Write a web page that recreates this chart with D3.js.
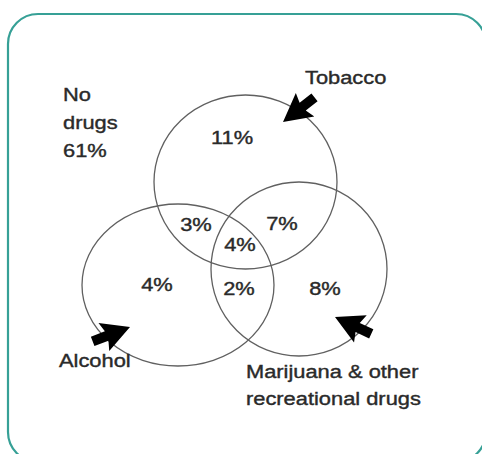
<!DOCTYPE html>
<html>
<head>
<meta charset="utf-8">
<script src="https://cdn.jsdelivr.net/npm/d3@7"></script>
<style>
	html, body { margin: 0; padding: 0; background: #fff; }
	svg { display: block; }
</style>
</head>
<body>
<svg id="chart" width="482" height="454"></svg>
<script>
// data
var setNames = ["Tobacco", "Alcohol", "Marijuana & other recreational drugs"];
var setLabelLines = [["Tobacco"], ["Alcohol"], ["Marijuana & other", "recreational drugs"]];
var regionKeys = ["T", "A", "M", "TA", "TM", "AM", "TAM"];
var regionValues = [11, 4, 8, 3, 7, 2, 4];
var noneLabel = ["No", "drugs"];
var noneValue = 61;

// layout (pixels)
var circleLayout = [
	{ cx: 245.5, cy: 182, rx: 91.5, ry: 87 },  // tobacco
	{ cx: 178, cy: 285, rx: 96, ry: 81 },      // alcohol
	{ cx: 299, cy: 269, rx: 88, ry: 87 }       // marijuana
];
var regionPos = {
	T: [232, 144], A: [157, 291], M: [325, 295],
	TA: [196, 231], TM: [282, 230], AM: [239, 295], TAM: [240, 251]
};
var setLabelPos = [[305, 84], [59, 367], [246, 378]];
var arrowLayout = [
	{ x: 283, y: 122, angle: -38 },
	{ x: 130, y: 327, angle: 159 },
	{ x: 335, y: 317, angle: 25 }
];
var textStyle = { size: 19, stretch: 1.15, fill: "#2a2a2a", lineGap: 27 };

var svg = d3.select("#chart");

// card border
svg.append("rect")
	.attr("x", 8).attr("y", 14)
	.attr("width", 478).attr("height", 448)
	.attr("rx", 30).attr("ry", 30)
	.style("fill", "#fff")
	.style("stroke", "#36a096").style("stroke-width", 2.2);

// circles
svg.selectAll("ellipse.set")
	.data(setNames)
	.enter().append("ellipse")
	.attr("class", "set")
	.attr("cx", function (d, i) { return circleLayout[i].cx; })
	.attr("cy", function (d, i) { return circleLayout[i].cy; })
	.attr("rx", function (d, i) { return circleLayout[i].rx; })
	.attr("ry", function (d, i) { return circleLayout[i].ry; })
	.style("fill", "none").style("stroke", "#606060").style("stroke-width", 1.3);

function addText(str, x, y, anchor) {
	return svg.append("text")
		.attr("transform", "translate(" + x + "," + y + ") scale(" + textStyle.stretch + ",1)")
		.attr("text-anchor", anchor || "start")
		.style("font-family", "'Liberation Sans', Arial, sans-serif")
		.style("font-size", textStyle.size + "px")
		.style("fill", textStyle.fill)
		.style("stroke", textStyle.fill).style("stroke-width", 0.4)
		.text(str);
}

// region percentages
regionKeys.forEach(function (k, i) {
	addText(regionValues[i] + "%", regionPos[k][0], regionPos[k][1], "middle");
});

// arrows (cursor-like, tip at origin, body along +x)
var arrowShape = [[0, 0], [28, -15], [25, -5], [40, -5], [40, 5], [25, 5], [28, 15]];
var line = d3.line();
svg.selectAll("path.arrow")
	.data(arrowLayout)
	.enter().append("path")
	.attr("class", "arrow")
	.attr("d", line(arrowShape) + "Z")
	.attr("transform", function (d) { return "translate(" + d.x + "," + d.y + ") rotate(" + d.angle + ")"; })
	.style("fill", "#000");

// set labels
setLabelLines.forEach(function (lines, i) {
	lines.forEach(function (t, j) {
		addText(t, setLabelPos[i][0], setLabelPos[i][1] + j * textStyle.lineGap);
	});
});

// no drugs label
noneLabel.concat([noneValue + "%"]).forEach(function (t, j) {
	addText(t, 63, 101 + j * 28);
});
</script>
</body>
</html>
